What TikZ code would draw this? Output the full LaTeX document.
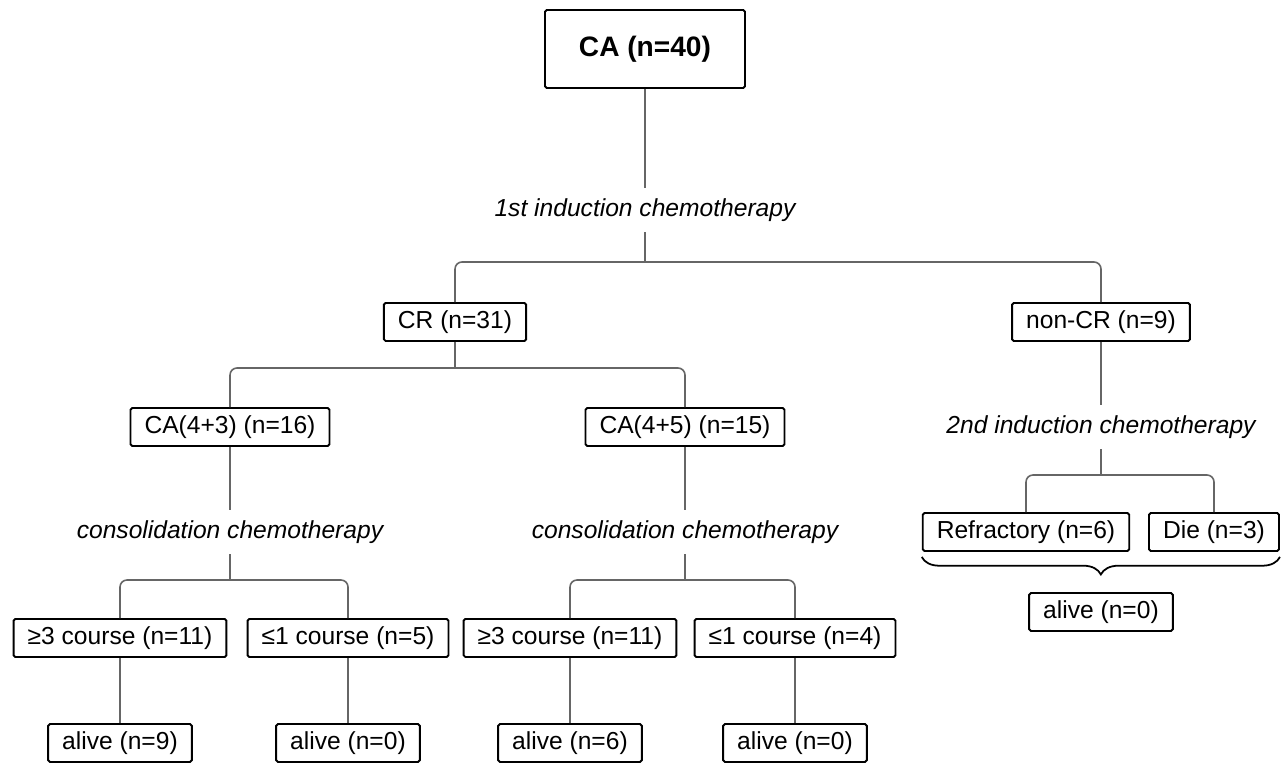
\documentclass[tikz,border=0pt]{standalone}
\usepackage{fontspec}
\setmainfont{Liberation Sans}
\usepackage{tikz}
\usetikzlibrary{shapes, positioning, decorations.pathreplacing}
\tikzstyle{block} = [rectangle, draw, line width=1.1pt, rounded corners=1pt, minimum height=0.76cm, inner xsep=8pt, text centered, font=\fontsize{14}{16}\selectfont]
\tikzstyle{stage} = [inner sep=6pt, font=\fontsize{14}{16}\selectfont\itshape]
\tikzstyle{conn} = [draw=black!60, line width=0.9pt, rounded corners=4pt]

\begin{document}
\begin{tikzpicture}[on grid, node distance=2.1cm]
	\useasboundingbox (0,-15.28) rectangle (25.68,0);
	% Awal
	\node [block, minimum width=4cm, minimum height=1.56cm, font=\fontsize{16}{18}\selectfont\bfseries] (ca) at (12.9,-0.98) {CA (n=40)};
	\node [stage, below=3.22cm of ca] (induksi1) {1st induction chemotherapy};
	\coordinate [below=1.04cm of induksi1] (j1);
	\node [block, below left=2.24cm and 3.8cm of induksi1] (cr) {CR (n=31)};
	\node [block, below right=2.24cm and 9.12cm of induksi1] (noncr) {non-CR (n=9)};

	% Cabang CR
	\coordinate [below=0.92cm of cr] (j2);
	\node [block, below left=2.1cm and 4.5cm of cr] (ca43) {CA(4+3) (n=16)};
	\node [block, below right=2.1cm and 4.6cm of cr] (ca45) {CA(4+5) (n=15)};
	\node [stage, below of=ca43] (konsol1) {consolidation chemotherapy};
	\node [stage, below of=ca45] (konsol2) {consolidation chemotherapy};
	\coordinate [below=0.96cm of konsol1] (j3);
	\coordinate [below=0.96cm of konsol2] (j4);
	\node [block, below left=2.12cm and 2.2cm of konsol1] (lebih1) {≥3 course (n=11)};
	\node [block, below right=2.12cm and 2.36cm of konsol1] (kurang1) {≤1 course (n=5)};
	\node [block, below left=2.12cm and 2.3cm of konsol2] (lebih2) {≥3 course (n=11)};
	\node [block, below right=2.12cm and 2.2cm of konsol2] (kurang2) {≤1 course (n=4)};
	\node [block, below of=lebih1] (hidup1) {alive (n=9)};
	\node [block, below of=kurang1] (hidup2) {alive (n=0)};
	\node [block, below of=lebih2] (hidup3) {alive (n=6)};
	\node [block, below of=kurang2] (hidup4) {alive (n=0)};

	% Cabang non-CR
	\node [stage, below of=noncr] (induksi2) {2nd induction chemotherapy};
	\coordinate [below=0.96cm of induksi2] (j5);
	\node [block, below left=2.1cm and 1.5cm of induksi2] (refrakter) {Refractory (n=6)};
	\node [block, below right=2.1cm and 2.26cm of induksi2] (mati) {Die (n=3)};
	\node [block, below=3.7cm of induksi2] (hidup5) {alive (n=0)};

	\draw[conn] (ca) -- (induksi1);
	\draw[conn] (induksi1) -- (j1);
	\draw[conn] (j1) -| (cr);
	\draw[conn] (j1) -| (noncr);
	\draw[conn] (cr) -- (j2);
	\draw[conn] (j2) -| (ca43);
	\draw[conn] (j2) -| (ca45);
	\draw[conn] (ca43) -- (konsol1);
	\draw[conn] (ca45) -- (konsol2);
	\draw[conn] (konsol1) -- (j3);
	\draw[conn] (konsol2) -- (j4);
	\draw[conn] (j3) -| (lebih1);
	\draw[conn] (j3) -| (kurang1);
	\draw[conn] (j4) -| (lebih2);
	\draw[conn] (j4) -| (kurang2);
	\draw[conn] (lebih1) -- (hidup1);
	\draw[conn] (kurang1) -- (hidup2);
	\draw[conn] (lebih2) -- (hidup3);
	\draw[conn] (kurang2) -- (hidup4);
	\draw[conn] (noncr) -- (induksi2);
	\draw[conn] (induksi2) -- (j5);
	\draw[conn] (j5) -| (refrakter);
	\draw[conn] (j5) -| (mati);
	\draw[line width=1pt, decorate, decoration={brace, mirror, amplitude=0.35cm}]
		([yshift=-0.1cm]refrakter.south west) -- ([yshift=-0.1cm]mati.south east);
\end{tikzpicture}
\end{document}
